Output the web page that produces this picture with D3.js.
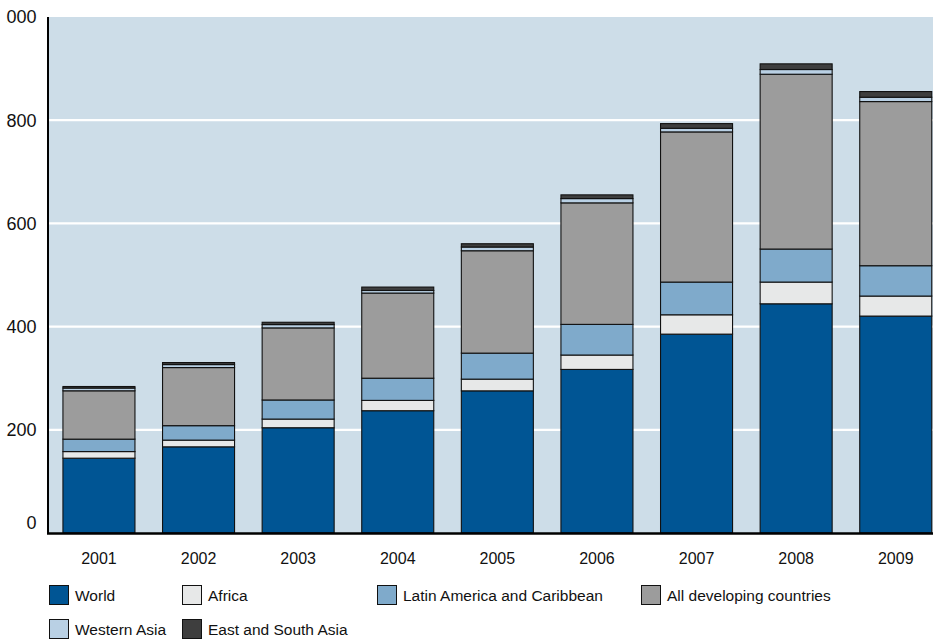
<!DOCTYPE html>
<html>
<head>
<meta charset="utf-8">
<script src="https://cdn.jsdelivr.net/npm/d3@7"></script>
<style>
  html, body { margin: 0; padding: 0; background: #ffffff; }
  svg { display: block; font-family: "Liberation Sans", Arial, Helvetica, sans-serif; }
</style>
</head>
<body>
<svg id="chart" width="933" height="639"></svg>
<script>
// ---- data ----
const years = ["2001", "2002", "2003", "2004", "2005", "2006", "2007", "2008", "2009"];
const world         = [145, 167, 204, 237, 275.5, 317, 385.4, 444.2, 420.4];
const africa        = [12.8, 13, 16.8, 20, 22.7, 27.9, 37.5, 42.1, 38.8];
const latinAmerica  = [24.1, 28, 37, 43, 50.4, 59.4, 63.4, 64, 58.8];
const allDeveloping = [93.7, 112.6, 139.7, 165, 198.4, 235.5, 291, 338.8, 318.1];
const westernAsia   = [5.3, 5.8, 6.4, 5, 7.2, 8.3, 7, 9.1, 8.4];
const eastSouthAsia = [3, 3.9, 4.5, 6.6, 6.4, 7.2, 9.1, 11, 11];
const yTicks = [0, 200, 400, 600, 800, 1000];
const seriesNames = ["World", "Africa", "Latin America and Caribbean", "All developing countries", "Western Asia", "East and South Asia"];
const seriesValues = [world, africa, latinAmerica, allDeveloping, westernAsia, eastSouthAsia];
const seriesColors = ["#005594", "#e7e8e8", "#7faacb", "#9c9c9c", "#b9d0e4", "#3e3e3e"];

// ---- layout ----
const svg = d3.select("#chart");
const plot = { left: 49, right: 933, top: 17, bottom: 533 };

const x = d3.scaleBand().domain(years).range([49, 945.7]).paddingInner(0.277).paddingOuter(0.14);
const y = d3.scaleLinear().domain([0, 1000]).range([plot.bottom, plot.top]);

// background
svg.append("rect")
  .attr("x", plot.left).attr("y", plot.top)
  .attr("width", plot.right - plot.left).attr("height", plot.bottom - plot.top)
  .attr("fill", "#cddde8");

// gridlines
svg.append("g").selectAll("line")
  .data(yTicks.filter(t => t > 0 && t < 1000))
  .join("line")
  .attr("x1", plot.left).attr("x2", plot.right)
  .attr("y1", d => y(d)).attr("y2", d => y(d))
  .attr("stroke", "#ffffff").attr("stroke-width", 2.2);

// stacked data
const table = years.map((yr, i) => {
  const row = { year: yr };
  seriesNames.forEach((n, j) => row[n] = seriesValues[j][i]);
  return row;
});
const stack = d3.stack().keys(seriesNames)(table);

svg.append("g").selectAll("g")
  .data(stack)
  .join("g")
  .attr("fill", (d, i) => seriesColors[i])
  .selectAll("rect")
  .data(d => d)
  .join("rect")
  .attr("x", d => x(d.data.year))
  .attr("width", x.bandwidth())
  .attr("y", d => y(d[1]))
  .attr("height", d => y(d[0]) - y(d[1]))
  .attr("stroke", "#111")
  .attr("stroke-width", 1.1);

// axes lines
svg.append("line")
  .attr("x1", plot.left - 1).attr("x2", plot.left - 1)
  .attr("y1", plot.top).attr("y2", plot.bottom + 1)
  .attr("stroke", "#000").attr("stroke-width", 2);
svg.append("line")
  .attr("x1", plot.left - 2).attr("x2", plot.right)
  .attr("y1", plot.bottom + 0.5).attr("y2", plot.bottom + 0.5)
  .attr("stroke", "#000").attr("stroke-width", 2.5);

// y tick labels (the original image is cropped at the left edge)
svg.append("clipPath").attr("id", "ylabclip")
  .append("rect").attr("x", 6).attr("y", 0).attr("width", 60).attr("height", 639);
svg.append("g").attr("clip-path", "url(#ylabclip)")
  .selectAll("text")
  .data(yTicks)
  .join("text")
  .attr("x", 36.5)
  .attr("y", d => d === 0 ? y(d) - 10 : y(d))
  .attr("dy", "0.35em")
  .attr("text-anchor", "end")
  .attr("font-size", 18)
  .attr("fill", "#111")
  .text(d => d);

// x tick labels
svg.append("g").selectAll("text")
  .data(years)
  .join("text")
  .attr("x", d => x(d) + x.bandwidth() / 2)
  .attr("y", 564)
  .attr("text-anchor", "middle")
  .attr("font-size", 16)
  .attr("fill", "#111")
  .text(d => d);

// legend
const legendCols = [49, 182, 377, 641];
const legendRows = [585, 619];
const legendPos = [[0, 0], [1, 0], [2, 0], [3, 0], [0, 1], [1, 1]];
const lg = svg.append("g").selectAll("g")
  .data(seriesNames)
  .join("g")
  .attr("transform", (d, i) => `translate(${legendCols[legendPos[i][0]]},${legendRows[legendPos[i][1]]})`);
lg.append("rect")
  .attr("x", 0.5).attr("y", 0.5)
  .attr("width", 19).attr("height", 19)
  .attr("fill", (d, i) => seriesColors[i])
  .attr("stroke", "#111").attr("stroke-width", 1);
lg.append("text")
  .attr("x", 26).attr("y", 10.5)
  .attr("dy", "0.35em")
  .attr("font-size", 15.5)
  .attr("fill", "#111")
  .text(d => d);
</script>
</body>
</html>
